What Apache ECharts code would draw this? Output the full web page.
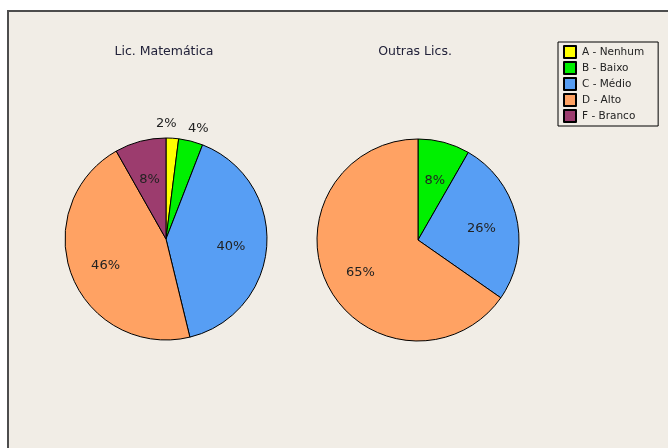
<!DOCTYPE html>
<html><head><meta charset="utf-8">
<script src="https://cdn.jsdelivr.net/npm/echarts@6/dist/echarts.min.js"></script>
<style>html,body{margin:0;padding:0;background:#fff}#c{width:668px;height:448px}</style>
</head><body><div id="c"></div>
<script>
// ---- data ----
const categories = ['A - Nenhum', 'B - Baixo', 'C - Médio', 'D - Alto', 'F - Branco'];
const chartTitles = ['Lic. Matemática', 'Outras Lics.'];
const licMatNames = ['A - Nenhum', 'B - Baixo', 'C - Médio', 'D - Alto', 'F - Branco'];
const licMatValues = [2.0, 3.9, 40.3, 45.6, 8.2];
const outrasNames = ['B - Baixo', 'C - Médio', 'D - Alto'];
const outrasValues = [8.3, 26.4, 65.3];

// ---- styles ----
const colorOf = {
  'A - Nenhum': '#FFFF00',
  'B - Baixo': '#00F000',
  'C - Médio': '#579EF4',
  'D - Alto': '#FFA263',
  'F - Branco': '#9C3C6E'
};
const outsideLabelNames = ['A - Nenhum', 'B - Baixo']; // small slices labelled above the pie (left pie)
const outsideLabelNudge = { 'A - Nenhum': [-7, -1], 'B - Baixo': [4, 1] };
const FONT = 'DejaVu Sans';
const R = 101;
const pies = [
  { names: licMatNames, values: licMatValues, center: [166, 239], outside: outsideLabelNames },
  { names: outrasNames, values: outrasValues, center: [418, 240], outside: [] }
];

const fmt = p => Math.round(p.percent) + '%';
const labelStyle = { color: '#222', fontFamily: FONT, fontSize: 13 };
const series = [];
pies.forEach(pc => {
  // visible pie
  series.push({
    type: 'pie', radius: [0, R], center: pc.center, startAngle: 90, clockwise: true,
    avoidLabelOverlap: false, animation: false,
    label: { show: false }, labelLine: { show: false },
    itemStyle: { borderColor: '#000', borderWidth: 1 },
    emphasis: { disabled: true },
    data: pc.names.map((n, i) => ({ name: n, value: pc.values[i], itemStyle: { color: colorOf[n] } }))
  });
  // invisible ring carrying inner labels
  series.push({
    type: 'pie', radius: [22, R + 1], center: pc.center, startAngle: 90, clockwise: true,
    avoidLabelOverlap: false, animation: false, silent: true, legendHoverLink: false,
    itemStyle: { color: 'rgba(0,0,0,0)', borderWidth: 0 },
    emphasis: { disabled: true },
    labelLine: { show: false },
    label: Object.assign({ show: true, position: 'inside', formatter: fmt, offset: [0, 3] }, labelStyle),
    data: pc.names.map((n, i) => ({ name: n, value: pc.values[i],
      label: { show: pc.outside.indexOf(n) < 0 } }))
  });
  if (pc.outside.length) {
    // invisible ring carrying labels above the small slices
    series.push({
      type: 'pie', radius: [107, 117], center: pc.center, startAngle: 90, clockwise: true,
      avoidLabelOverlap: false, animation: false, silent: true, legendHoverLink: false,
      itemStyle: { color: 'rgba(0,0,0,0)', borderWidth: 0 },
      emphasis: { disabled: true },
      labelLine: { show: false },
      label: Object.assign({ show: true, position: 'inside', formatter: fmt }, labelStyle),
      data: pc.names.map((n, i) => ({ name: n, value: pc.values[i],
        label: { show: pc.outside.indexOf(n) >= 0, offset: outsideLabelNudge[n] || [0, 0] } }))
    });
  }
});

const chart = echarts.init(document.getElementById('c'), null, { renderer: 'canvas' });
chart.setOption({
  backgroundColor: '#ffffff',
  animation: false,
  graphic: [
    { type: 'rect', z: -10, shape: { x: 8, y: 11, width: 720, height: 500 },
      style: { fill: '#F1EDE6', stroke: '#4d4d4d', lineWidth: 2 } },
    { type: 'text', x: 164, y: 52, style: { text: chartTitles[0], align: 'center', verticalAlign: 'middle',
      font: '12.5px "DejaVu Sans"', fill: '#22223a' } },
    { type: 'text', x: 415, y: 52, style: { text: chartTitles[1], align: 'center', verticalAlign: 'middle',
      font: '12.5px "DejaVu Sans"', fill: '#22223a' } }
  ],
  legend: {
    data: categories,
    orient: 'vertical', left: 558, top: 42,
    padding: [3, 14, 3, 5],
    itemWidth: 12, itemHeight: 12, itemGap: 2,
    icon: 'rect',
    borderColor: '#000', borderWidth: 1, backgroundColor: 'rgba(0,0,0,0)',
    selectedMode: false,
    textStyle: { fontFamily: FONT, fontSize: 10.5, lineHeight: 12, color: '#222', padding: [0, 0, 0, 1] }
  },
  series: series
});
</script>
</body></html>
